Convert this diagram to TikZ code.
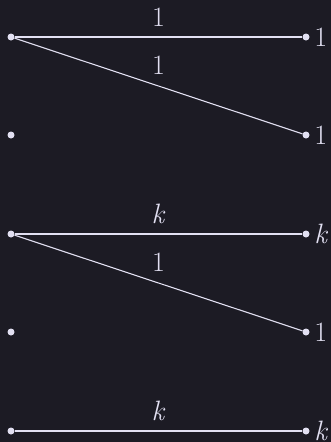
\documentclass[tikz,border=0pt]{standalone}
\usepackage{fontspec}
\usepackage{xcolor}
\definecolor{bg}{HTML}{1C1B24}
\definecolor{fg}{HTML}{E2E0F2}
\begin{document}
\begin{tikzpicture}[x=1pt,y=-1pt,
  dot/.style={circle,fill=fg,inner sep=0pt,minimum size=7pt},
  edge/.style={draw=fg,line width=1.1pt},
  lbl/.style={text=fg,font=\fontsize{28}{30}\selectfont,inner sep=0pt},
  elbl/.style={lbl,midway,above,yshift=#1},
  rlbl/.style={lbl,anchor=west,xshift=4.5pt}]
\fill[bg] (0,0) rectangle (331,442);
\useasboundingbox (0,0) rectangle (331,442);
\foreach \r/\y in {a/37,b/135,c/234,d/332,e/431}{
  \node[dot] (L\r) at (11,\y) {};
  \node[dot] (R\r) at (306,\y) {};
}
\node[rlbl] (ta) at (Ra.east) {1};
\node[rlbl] (tb) at (Rb.east) {1};
\node[rlbl] (tc) at (Rc.east) {\textit{k}};
\node[rlbl] (td) at (Rd.east) {1};
\node[rlbl] (te) at (Re.east) {\textit{k}};
\draw[edge] (La) -- node[elbl=10pt] (ea) {1} (Ra);
\draw[edge] (La) -- node[elbl=11pt] (eb) {1} (Rb);
\draw[edge] (Lc) -- node[elbl=10pt] (ec) {\textit{k}} (Rc);
\draw[edge] (Lc) -- node[elbl=11pt] (ed) {1} (Rd);
\draw[edge] (Le) -- node[elbl=10pt] (ee) {\textit{k}} (Re);
\end{tikzpicture}
\end{document}
